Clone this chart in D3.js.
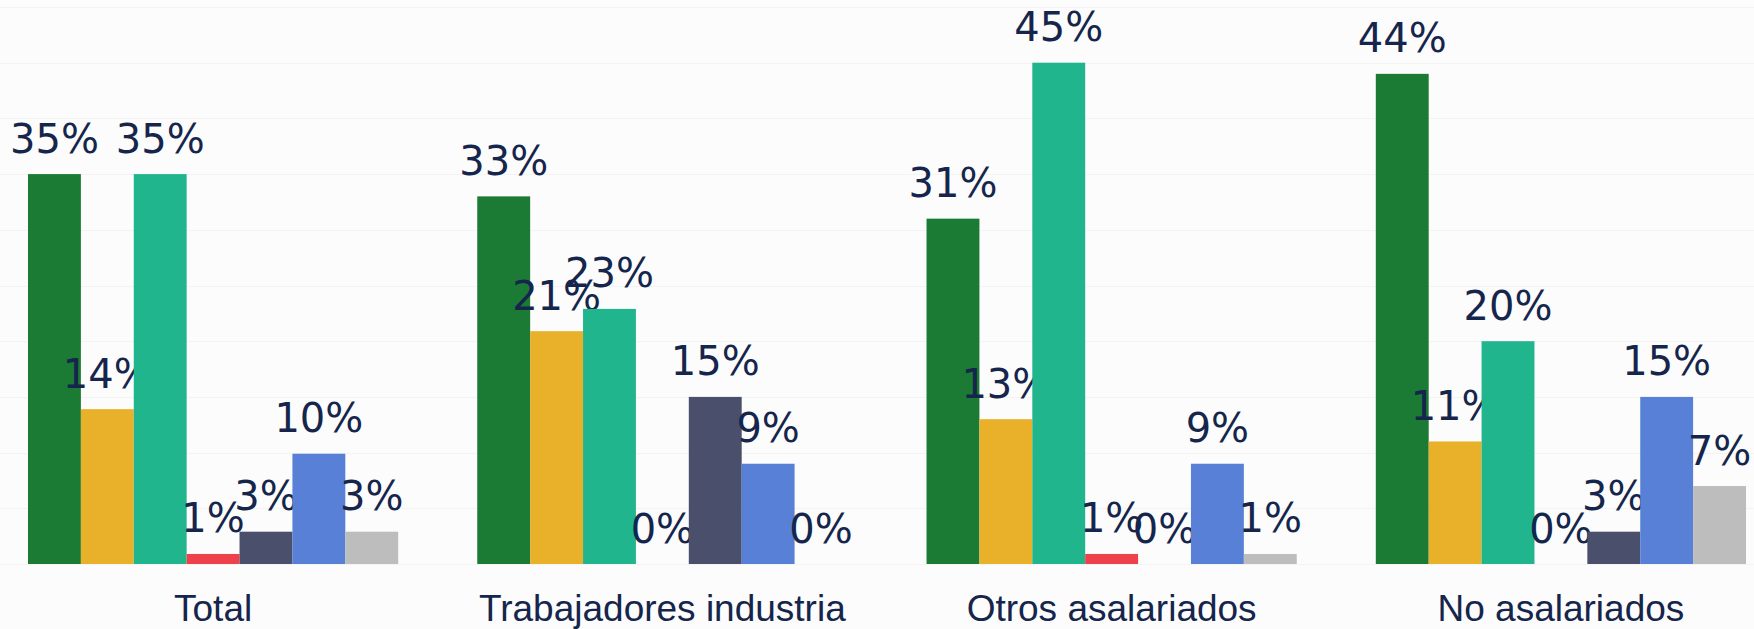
<!DOCTYPE html>
<html>
<head>
<meta charset="utf-8">
<script src="https://cdn.jsdelivr.net/npm/d3@7"></script>
<style>
  html, body { margin: 0; padding: 0; background: #fcfcfc; }
  svg { display: block; }
</style>
</head>
<body>
<svg id="chart"></svg>
<script>
// data
var categories = ["Total", "Trabajadores industria", "Otros asalariados", "No asalariados"];
var seriesNames = ["s1", "s2", "s3", "s4", "s5", "s6", "s7"];
var seriesColors = ["#1b7a34", "#e9b02a", "#21b58e", "#ef414b", "#4a4f6b", "#5780d6", "#bdbdbd"];
var totalValues = [35, 13.9, 35, 0.9, 2.9, 9.9, 2.9];
var industriaValues = [33, 20.9, 22.9, 0, 15, 9, 0];
var otrosValues = [31, 13, 45, 0.9, 0, 9, 0.9];
var noAsalariadosValues = [44, 11, 20, 0, 2.9, 15, 7];
var gridTicks = [0, 5, 10, 15, 20, 25, 30, 35, 40, 45, 50];

var rows = [totalValues, industriaValues, otrosValues, noAsalariadosValues];

var svgWidth = 1754;
var svgHeight = 629;
var margin = { top: 7, right: 8, bottom: 65, left: 28 };
var textColor = "#15254b";

var svg = d3.select("#chart")
  .attr("width", svgWidth)
  .attr("height", svgHeight);

svg.append("rect")
  .attr("width", svgWidth)
  .attr("height", svgHeight)
  .attr("fill", "#fcfcfc");

var x0 = d3.scaleBand()
  .domain(categories)
  .range([margin.left, svgWidth - margin.right])
  .paddingInner(0.176)
  .paddingOuter(0);

var x1 = d3.scaleBand()
  .domain(seriesNames)
  .range([0, x0.bandwidth()])
  .padding(0);

var y = d3.scaleLinear()
  .domain([0, 50])
  .range([svgHeight - margin.bottom, margin.top]);

// faint gridlines
svg.append("g")
  .selectAll("line")
  .data(gridTicks)
  .enter()
  .append("line")
  .attr("x1", 0)
  .attr("x2", svgWidth)
  .attr("y1", d => Math.round(y(d)) + 0.5)
  .attr("y2", d => Math.round(y(d)) + 0.5)
  .attr("stroke", "#f3f3f3")
  .attr("stroke-width", 1);

var groups = svg.append("g")
  .selectAll("g")
  .data(categories)
  .enter()
  .append("g")
  .attr("transform", d => `translate(${x0(d)},0)`);

var cells = groups.selectAll("g")
  .data((c, i) => rows[i].map((v, j) => ({ series: seriesNames[j], value: v, color: seriesColors[j] })))
  .enter()
  .append("g");

cells.append("rect")
  .attr("x", d => x1(d.series))
  .attr("width", x1.bandwidth())
  .attr("y", d => y(d.value))
  .attr("height", d => y(0) - y(d.value))
  .attr("fill", d => d.color);

cells.append("text")
  .attr("x", d => x1(d.series) + x1.bandwidth() / 2)
  .attr("y", d => y(d.value) - 21.5)
  .attr("text-anchor", "middle")
  .attr("font-family", "'DejaVu Sans', sans-serif")
  .attr("font-size", 40)
  .attr("fill", textColor)
  .text(d => Math.round(d.value) + "%");

// category axis
var xAxis = d3.axisBottom(x0).tickSize(0).tickPadding(0);
var gx = svg.append("g")
  .attr("transform", `translate(0, ${y(0)})`)
  .call(xAxis);
gx.select(".domain").remove();
gx.selectAll("text")
  .attr("dy", 0)
  .attr("y", 57)
  .attr("font-family", "'Liberation Sans', Arial, sans-serif")
  .attr("font-size", 37)
  .attr("fill", textColor);
</script>
</body>
</html>
